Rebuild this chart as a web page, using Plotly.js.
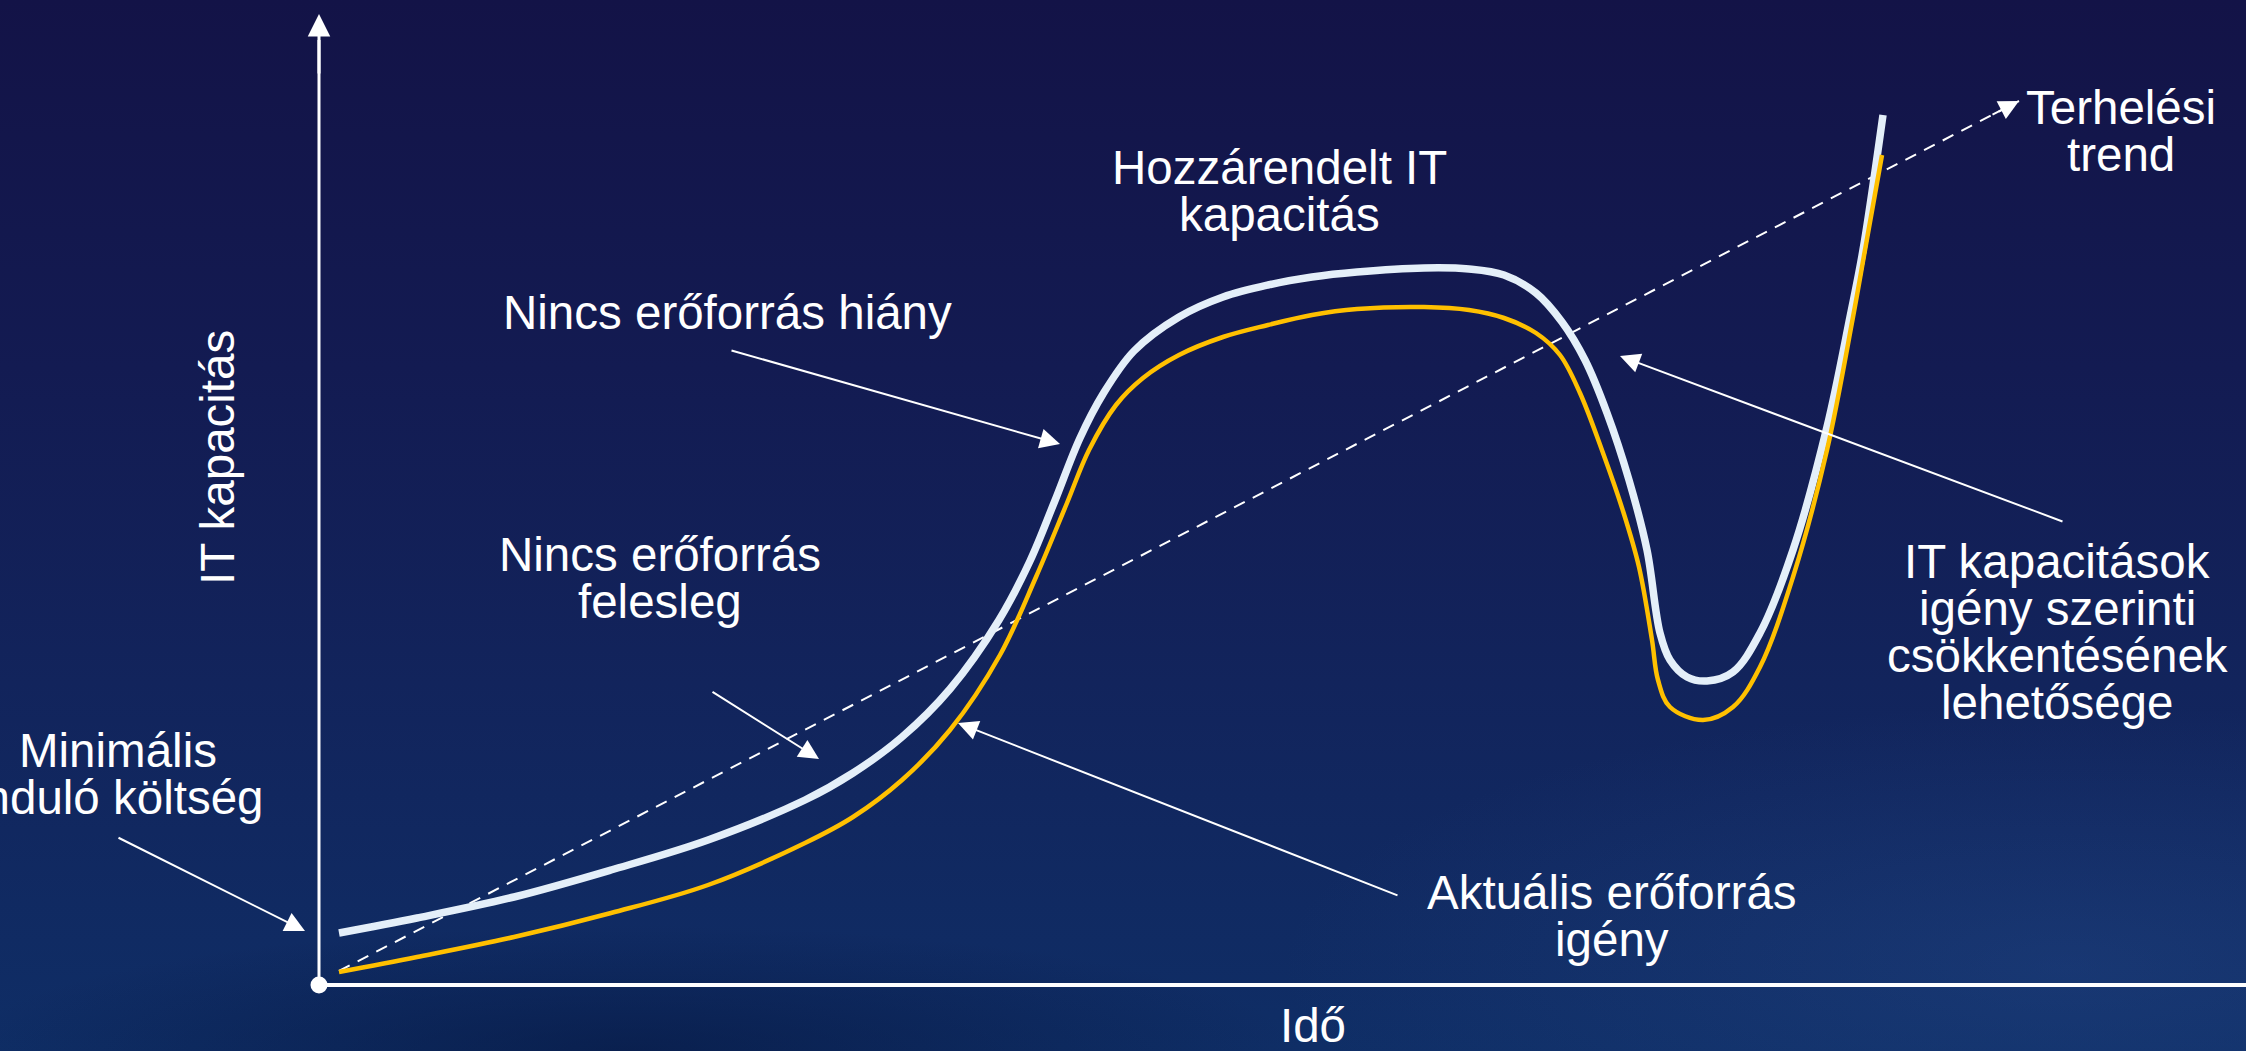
<!DOCTYPE html>
<html>
<head>
<meta charset="utf-8">
<script src="https://cdn.plot.ly/plotly-3.0.1.min.js"></script>
<style>
  html, body { margin: 0; padding: 0; width: 2246px; height: 1051px; overflow: hidden; }
  body {
    background:
      radial-gradient(ellipse 30% 12% at 28% 100%, rgba(5,20,60,0.55), rgba(5,20,60,0) 100%),
      radial-gradient(ellipse 35% 25% at 92% 92%, rgba(50,90,160,0.25), rgba(50,90,160,0) 100%),
      linear-gradient(to bottom, #131347 0%, #131b52 35%, #12245c 65%, #0f2e66 100%);
  }
  #chart { width: 2246px; height: 1051px; }
</style>
</head>
<body>
<div id="chart"></div>
<script>
// ---- Data (time units vs. IT capacity units) ----
const allocTime = [20, 98, 195, 292, 389, 486, 534, 583, 631, 680, 711, 735, 761, 784, 815, 860, 904, 949, 993, 1038, 1105, 1150, 1185, 1217, 1243, 1266, 1288, 1310, 1328, 1341, 1351, 1368, 1388, 1414, 1441, 1474, 1508, 1531, 1544, 1564];
const allocCapacity = [52, 67, 88, 115, 145, 185, 212, 248, 296, 365, 424, 482, 547, 591, 634, 668, 688, 700, 708, 713, 717, 716, 710, 692, 663, 625, 572, 505, 435, 352, 325, 308, 304, 313, 352, 435, 558, 668, 735, 870];

const demandTime = [20, 98, 195, 292, 389, 486, 534, 583, 631, 681, 717, 748, 770, 797, 824, 860, 904, 949, 993, 1038, 1105, 1150, 1185, 1217, 1241, 1261, 1284, 1304, 1320, 1333, 1339, 1351, 1384, 1414, 1441, 1474, 1508, 1534, 1546, 1563];
const demandCapacity = [13, 28, 48, 72, 100, 142, 168, 205, 255, 330, 408, 482, 535, 580, 607, 630, 648, 660, 670, 676, 678, 675, 667, 652, 630, 592, 532, 474, 418, 345, 305, 278, 265, 278, 318, 408, 535, 668, 735, 830];

const trendTime = [20, 1700];
const trendCapacity = [14, 884];

const originTime = [0];
const originCapacity = [0];

// ---- Texts ----
const axisTitleX = "Idő";
const axisTitleY = "IT kapacitás";
const labelLines = {
  allocated: ["Hozzárendelt IT", "kapacitás"],
  noShortage: ["Nincs erőforrás hiány"],
  noSurplus: ["Nincs erőforrás", "felesleg"],
  trend: ["Terhelési", "trend"],
  reduce: ["IT kapacitások", "igény szerinti", "csökkentésének", "lehetősége"],
  demand: ["Aktuális erőforrás", "igény"],
  minimal: ["Minimális", "induló költség"]
};

// ---- Styling / layout ----
const FONT = "Liberation Sans, Arial, Helvetica, sans-serif";
const FS = 47.5;
const LINE_GAP = 47;
const WHITE = "#ffffff";

function textBlock(lines, cx, cyFirst) {
  return lines.map((t, i) => ({
    x: cx, y: cyFirst - i * LINE_GAP, xref: "x", yref: "y",
    text: t, showarrow: false, xanchor: "center", yanchor: "middle",
    font: { family: FONT, size: FS, color: WHITE }
  }));
}
function arrow(tail, head, opts) {
  return Object.assign({
    x: head[0], y: head[1], ax: tail[0], ay: tail[1],
    xref: "x", yref: "y", axref: "x", ayref: "y",
    text: "", showarrow: true, arrowhead: 2, arrowsize: 2, arrowwidth: 2,
    arrowcolor: WHITE, standoff: 0, startstandoff: 0
  }, opts || {});
}

const traces = [
  {
    x: trendTime, y: trendCapacity, type: "scatter", mode: "lines",
    line: { color: WHITE, width: 2, dash: "12px,9px" }, hoverinfo: "skip"
  },
  {
    x: allocTime, y: allocCapacity, type: "scatter", mode: "lines",
    line: { color: "#e4eff9", width: 7.5, shape: "spline", smoothing: 1 }, hoverinfo: "skip"
  },
  {
    x: demandTime, y: demandCapacity, type: "scatter", mode: "lines",
    line: { color: "#ffc000", width: 4.5, shape: "spline", smoothing: 1 }, hoverinfo: "skip"
  },
  {
    x: originTime, y: originCapacity, type: "scatter", mode: "markers",
    marker: { color: WHITE, size: 17 }, hoverinfo: "skip"
  }
];

const annotations = [].concat(
  textBlock(labelLines.allocated, 960, 818),
  textBlock(labelLines.noShortage, 408, 673),
  textBlock(labelLines.noSurplus, 341, 431),
  textBlock(labelLines.trend, 1802, 878),
  textBlock(labelLines.reduce, 1738, 424),
  textBlock(labelLines.demand, 1293, 93),
  textBlock(labelLines.minimal, -201, 235),
  [
    { x: 994, y: -40, xref: "x", yref: "y", text: axisTitleX, showarrow: false,
      xanchor: "center", yanchor: "middle", font: { family: FONT, size: FS, color: WHITE } },
    { x: -102, y: 527, xref: "x", yref: "y", text: axisTitleY, showarrow: false, textangle: -90,
      xanchor: "center", yanchor: "middle", font: { family: FONT, size: FS, color: WHITE } },
    arrow([-202, 148], [-14, 54]),
    arrow([411, 635], [741, 541]),
    arrow([392, 294], [500, 226]),
    arrow([1745, 463], [1301, 629]),
    arrow([1080, 89], [639, 262]),
    arrow([1672, 869.5], [1700, 884]),
    arrow([0, 910], [0, 971], { arrowwidth: 3, arrowsize: 1.5 })
  ]
);

const layout = {
  width: 2246, height: 1051,
  margin: { l: 0, r: 0, t: 0, b: 0, pad: 0 },
  paper_bgcolor: "rgba(0,0,0,0)", plot_bgcolor: "rgba(0,0,0,0)",
  showlegend: false,
  xaxis: { range: [-319, 1927], visible: false, fixedrange: true },
  yaxis: { range: [-66, 985], visible: false, fixedrange: true },
  shapes: [
    { type: "line", xref: "x", yref: "y", x0: 0, y0: 0, x1: 0, y1: 945,
      line: { color: WHITE, width: 3 }, layer: "below" },
    { type: "line", xref: "x", yref: "y", x0: 0, y0: 0, x1: 1927, y1: 0,
      line: { color: WHITE, width: 4 }, layer: "below" }
  ],
  annotations: annotations
};

Plotly.newPlot("chart", traces, layout, { displayModeBar: false, staticPlot: true });
</script>
</body>
</html>
